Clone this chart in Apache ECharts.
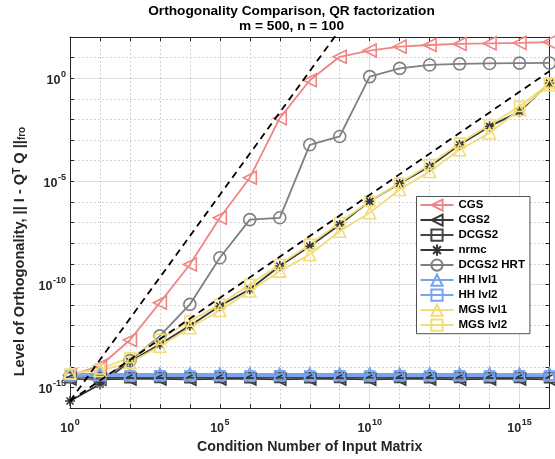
<!DOCTYPE html>
<html><head><meta charset="utf-8">
<script src="https://cdn.jsdelivr.net/npm/echarts@6/dist/echarts.min.js"></script>
<style>html,body{margin:0;padding:0;background:#fff}#c{width:555px;height:459px}</style>
</head><body><div id="c"></div>
<script>
// ---- data ----
const condNumbers = [1e0,1e1,1e2,1e3,1e4,1e5,1e6,1e7,1e8,1e9,1e10,1e11,1e12,1e13,1e14,1e15,1e16];
const cgs     = [4.0e-15,1.1e-14,2.0e-13,1.3e-11,9.3e-10,1.7e-7,1.5e-5,1.15e-2,0.8,11,22,34,41,46,49,52,57];
const cgs2    = [2.6e-15,2.5e-15,2.6e-15,2.6e-15,2.5e-15,2.6e-15,2.6e-15,2.5e-15,2.6e-15,2.6e-15,2.5e-15,2.6e-15,2.6e-15,2.5e-15,2.6e-15,2.6e-15,2.5e-15];
const dcgs2   = [3.0e-15,3.1e-15,3.0e-15,3.1e-15,3.0e-15,3.1e-15,3.0e-15,3.1e-15,3.0e-15,3.1e-15,3.0e-15,3.1e-15,3.0e-15,3.1e-15,3.0e-15,3.1e-15,3.0e-15];
const nrmc    = [2.2e-16,1.45e-15,1.8e-14,1.26e-13,1.0e-12,8.9e-12,5.8e-11,7.8e-10,7.1e-9,7.9e-8,1.07e-6,7.9e-6,5.2e-5,5.9e-4,4.6e-3,2.4e-2,0.58];
const dcgs2Hrt= [3.6e-15,2.1e-15,2.0e-14,3.2e-13,1.07e-11,1.95e-9,1.38e-7,1.7e-7,5.9e-4,1.5e-3,1.2,3.0,4.4,5.0,5.2,5.4,5.5];
const hhLvl1  = [4.6e-15,4.5e-15,4.6e-15,4.5e-15,4.6e-15,4.5e-15,4.6e-15,4.5e-15,4.6e-15,4.5e-15,4.6e-15,4.5e-15,4.6e-15,4.5e-15,4.6e-15,4.5e-15,4.6e-15];
const hhLvl2  = [3.6e-15,3.7e-15,3.6e-15,3.7e-15,3.6e-15,3.7e-15,3.6e-15,3.7e-15,3.6e-15,3.7e-15,3.6e-15,3.7e-15,3.6e-15,3.7e-15,3.6e-15,3.7e-15,3.6e-15];
const mgsLvl1 = [5.0e-15,6.5e-15,1.6e-14,1.0e-13,7.9e-13,5.4e-12,4.8e-11,4.4e-10,2.8e-9,3.8e-8,3.0e-7,4.0e-6,3.0e-5,3.4e-4,2.2e-3,3.0e-2,0.48];
const mgsLvl2 = [4.5e-15,7.9e-15,2.8e-14,2.2e-13,1.66e-12,1.07e-11,1.0e-10,9.3e-10,8.7e-9,1.0e-7,1.07e-6,8.3e-6,6.5e-5,7.1e-4,5.5e-3,4.3e-2,0.58];
// reference (dashed) lines, endpoints
const refKappaX  = [1, 1e16];
const refKappaY  = [2.2e-16, 2.2];
const refKappa2X = [1, 1e9];
const refKappa2Y = [2.2e-16, 220];
const seriesNames = ['CGS','CGS2','DCGS2','nrmc','DCGS2 HRT','HH lvl1','HH lvl2','MGS lvl1','MGS lvl2'];
const xExpTicks = [0,1,2,3,4,5,6,7,8,9,10,11,12,13,14,15,16];
const yExpTicks = [-16,-15,-14,-13,-12,-11,-10,-9,-8,-7,-6,-5,-4,-3,-2,-1,0,1,2];

// ---- styling ----
const FONT = '"Liberation Sans", Arial, Helvetica, sans-serif';
const RED = '#EF8585', DARK = '#363636', DARK2 = '#454545', GRAY = '#7f7f7f', BLUE = '#78A4EE', YEL = '#F2DD78';
const AX = '#262626';
const ASTER = 'path://M5,0 L5,10 M0,5 L10,5 M1.5,1.5 L8.5,8.5 M1.5,8.5 L8.5,1.5';

function pairs(xs, ys){ return xs.map((x,i)=>[x, ys[i]]); }
function mk(name, ys, color, symbol, size, rot){
  return {
    name, type:'line', data: pairs(condNumbers, ys), xAxisIndex:0, yAxisIndex:0,
    symbol, symbolSize:size, symbolRotate: rot||0, showSymbol:true,
    lineStyle:{color, width:1.8}, itemStyle:{color:'rgba(0,0,0,0)', borderColor:color, borderWidth:1.6},
    emphasis:{disabled:true}, animation:false, z:3
  };
}
const expOf = v => Math.round(Math.log10(v));
const supRich = {
  b:{fontSize:12.5, fontWeight:'bold', fontFamily:FONT, color:AX, lineHeight:17, verticalAlign:'bottom'},
  s:{fontSize:9, fontWeight:'bold', fontFamily:FONT, color:AX, lineHeight:9, verticalAlign:'top', padding:[0,0,0,0.5]}
};
const xDot = xExpTicks.map(e => e%5===0 ? 'rgba(0,0,0,0)' : '#c4c4c4');
const xSol = xExpTicks.map(e => e%5===0 ? '#dedede' : 'rgba(0,0,0,0)');
const yDot = yExpTicks.map(e => e%5===0 ? 'rgba(0,0,0,0)' : '#c4c4c4');
const ySol = yExpTicks.map(e => e%5===0 ? '#dedede' : 'rgba(0,0,0,0)');

const baseX = {type:'log', logBase:10, min:1, max:1e16, interval:1};
const baseY = {type:'log', logBase:10, min:1e-16, max:1e2, interval:1};

const option = {
  backgroundColor:'#fff',
  animation:false,
  title:{
    text:'Orthogonality Comparison, QR factorization\nm = 500, n = 100',
    left:286.5, top:-1, textAlign:'center',
    textStyle:{fontFamily:FONT, fontWeight:'bold', fontSize:13.7, lineHeight:14.5, color:'#000'}
  },
  grid:{left:70, top:37, right:5.5, bottom:49.5, containLabel:false},
  legend:{
    orient:'vertical', left:416.5, top:196.5,
    data: seriesNames,
    itemWidth:33, itemHeight:14, itemGap:1.8,
    padding:[2,5,2,3],
    backgroundColor:'#fff', borderColor:AX, borderWidth:0.8,
    textStyle:{fontFamily:FONT, fontWeight:'bold', fontSize:11.5, color:'#000', padding:[0,0,0,0]},
    selectedMode:false
  },
  xAxis:[
    Object.assign({}, baseX, {
      position:'bottom',
      axisLine:{show:true, lineStyle:{color:AX, width:1}},
      axisTick:{show:true, inside:true, length:4, lineStyle:{color:AX}},
      axisLabel:{margin:10, formatter: v => { const e = expOf(v); return (e%5===0 && e<16) ? '{b|10}{s|'+e+'}' : ''; }, rich:supRich},
      splitLine:{show:true, lineStyle:{color:xDot, type:[1.5,2.5], width:1}},
      name:'Condition Number of Input Matrix', nameLocation:'middle', nameGap:31,
      nameTextStyle:{fontFamily:FONT, fontWeight:'bold', fontSize:14.2, color:AX}
    }),
    Object.assign({}, baseX, {
      position:'top',
      axisLine:{show:true, lineStyle:{color:AX, width:1}},
      axisTick:{show:true, inside:true, length:4, lineStyle:{color:AX}},
      axisLabel:{show:false}, splitLine:{show:false}
    }),
    Object.assign({}, baseX, {
      position:'bottom',
      axisLine:{show:false}, axisTick:{show:false}, axisLabel:{show:false},
      splitLine:{show:true, lineStyle:{color:xSol, type:'solid', width:1}}
    })
  ],
  yAxis:[
    Object.assign({}, baseY, {
      position:'left',
      axisLine:{show:true, lineStyle:{color:AX, width:1}},
      axisTick:{show:true, inside:true, length:4, lineStyle:{color:AX}},
      axisLabel:{margin:4, formatter: v => { const e = expOf(v); return (e%5===0 && e>-16 && e<2) ? '{b|10}{s|'+e+'}' : ''; }, rich:supRich},
      splitLine:{show:true, lineStyle:{color:yDot, type:[1.5,2.5], width:1}},
      name:'Level of Orthogonality, || I - Q{sp|T} Q ||{sb|fro}', nameLocation:'middle', nameGap:31, nameRotate:90,
      nameTextStyle:{fontFamily:FONT, fontWeight:'bold', fontSize:14.6, color:AX, padding:[0,58,0,0],
        rich:{
          sp:{fontFamily:FONT, fontWeight:'bold', fontSize:10, color:AX, verticalAlign:'top', lineHeight:10},
          sb:{fontFamily:FONT, fontWeight:'bold', fontSize:10, color:AX, verticalAlign:'bottom', lineHeight:10, padding:[8,0,0,0]}
        }}
    }),
    Object.assign({}, baseY, {
      position:'right',
      axisLine:{show:true, lineStyle:{color:AX, width:1}},
      axisTick:{show:true, inside:true, length:4, lineStyle:{color:AX}},
      axisLabel:{show:false}, splitLine:{show:false}
    }),
    Object.assign({}, baseY, {
      position:'left',
      axisLine:{show:false}, axisTick:{show:false}, axisLabel:{show:false},
      splitLine:{show:true, lineStyle:{color:ySol, type:'solid', width:1}}
    })
  ],
  series:[
    mk('CGS', cgs, RED, 'triangle', 13, 90),
    mk('CGS2', cgs2, DARK, 'triangle', 12, 90),
    mk('DCGS2', dcgs2, DARK2, 'rect', 10),
    mk('nrmc', nrmc, DARK, ASTER, 10),
    mk('DCGS2 HRT', dcgs2Hrt, GRAY, 'circle', 12),
    mk('HH lvl1', hhLvl1, BLUE, 'triangle', 12),
    mk('HH lvl2', hhLvl2, BLUE, 'rect', 10),
    mk('MGS lvl1', mgsLvl1, YEL, 'triangle', 12),
    mk('MGS lvl2', mgsLvl2, YEL, 'rect', 10),
    {type:'line', data: pairs(refKappaX, refKappaY), symbol:'none', lineStyle:{color:'#000', width:1.8, type:[7,5]}, clip:true, z:4, silent:true, animation:false},
    {type:'line', data: pairs(refKappa2X, refKappa2Y), symbol:'none', lineStyle:{color:'#000', width:1.8, type:[7,5]}, clip:true, z:4, silent:true, animation:false}
  ]
};
const chart = echarts.init(document.getElementById('c'), null, {renderer:'canvas'});
chart.setOption(option);
</script>
</body></html>
